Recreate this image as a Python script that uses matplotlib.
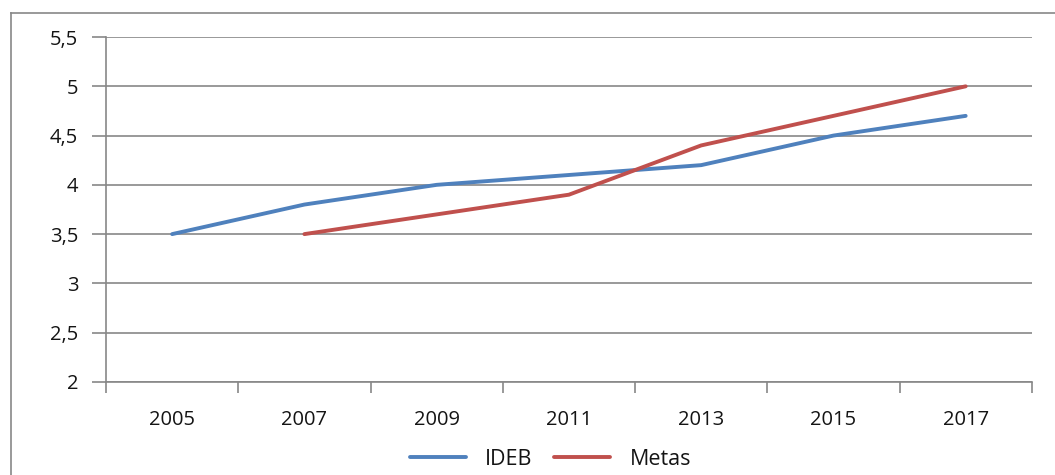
"""IDEB x Metas - gráfico de linhas no estilo Excel."""
import matplotlib
matplotlib.use("Agg")
import matplotlib.pyplot as plt
from matplotlib.lines import Line2D
import numpy as np

# --------------------------------------------------------------------------- #
# dados
# --------------------------------------------------------------------------- #
anos = ["2005", "2007", "2009", "2011", "2013", "2015", "2017"]
ideb = [3.5, 3.8, 4.0, 4.1, 4.2, 4.5, 4.7]
metas = [np.nan, 3.5, 3.7, 3.9, 4.4, 4.7, 5.0]
y_ticks = [2, 2.5, 3, 3.5, 4, 4.5, 5, 5.5]

AZUL = "#4F81BD"
VERMELHO = "#C0504D"
CINZA = "#878787"
TEXTO = "#141414"

plt.rcParams["font.family"] = ["Open Sans", "DejaVu Sans"]

fig = plt.figure(figsize=(10.55, 4.75), dpi=100)
ax = fig.add_axes([0.1005, 0.196, 0.8775, 0.726])

x = np.arange(len(anos))
ax.plot(x, ideb, color=AZUL, lw=2.8, label="IDEB", solid_capstyle="round")
ax.plot(x, metas, color=VERMELHO, lw=2.8, label="Metas", solid_capstyle="round")

ax.set_xlim(-0.5, len(anos) - 0.5)
ax.set_ylim(2, 5.5)
ax.set_yticks(y_ticks)
ax.set_yticklabels([f"{v:g}".replace(".", ",") for v in y_ticks], fontsize=14.5)
ax.set_xticks(x)
ax.set_xticklabels(anos, fontsize=14.5)
ax.set_xticks(np.arange(len(anos) + 1) - 0.5, minor=True)

ax.tick_params(axis="x", which="major", length=0, pad=20, colors=TEXTO)
ax.tick_params(axis="x", which="minor", length=8, width=1.2, color=CINZA)
ax.tick_params(axis="y", length=10, width=1.2, color=CINZA, pad=10, labelcolor=TEXTO)

ax.grid(True, axis="y", color=CINZA, lw=1.2)
ax.set_axisbelow(True)
for lado in ["top", "right"]:
    ax.spines[lado].set_visible(False)
for lado in ["left", "bottom"]:
    ax.spines[lado].set_color(CINZA)
    ax.spines[lado].set_linewidth(1.2)

leg = ax.legend(loc="center", bbox_to_anchor=(0.48, -0.225), ncol=2, frameon=False,
                fontsize=15.5, handlelength=2.6, columnspacing=1.0, handletextpad=0.9)
for t in leg.get_texts():
    t.set_color(TEXTO)

# moldura do gráfico (esquerda e topo)
fig.lines.append(Line2D([11 / 1055, 11 / 1055], [0, 1 - 13 / 475],
                        transform=fig.transFigure, color=CINZA, lw=1.2))
fig.lines.append(Line2D([11 / 1055, 1], [1 - 13 / 475, 1 - 13 / 475],
                        transform=fig.transFigure, color=CINZA, lw=1.2))

fig.savefig("out.png", dpi=100)
